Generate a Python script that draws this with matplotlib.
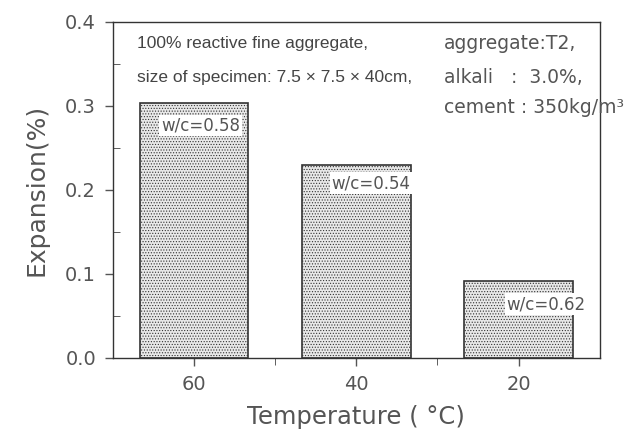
import matplotlib.pyplot as plt
import numpy as np

# data
temps = ["60", "40", "20"]
expansion = [0.304, 0.230, 0.091]
wc_labels = ["w/c=0.58", "w/c=0.54", "w/c=0.62"]

plt.rcParams['font.family'] = ['DejaVu Sans']
plt.rcParams['hatch.color'] = '#555555'
plt.rcParams['hatch.linewidth'] = 0.5
grey = '#555555'

fig = plt.figure(figsize=(6.3, 4.37), dpi=100)
ax = fig.add_axes([0.179, 0.181, 0.773, 0.769])

x = np.arange(len(temps))
ax.bar(x, expansion, width=0.67, facecolor='#e8e8e8', edgecolor='#333333',
       hatch='......', linewidth=1.2)

# w/c labels in white boxes on the bars
offsets = [(0.04, -0.027), (0.09, -0.022), (0.17, -0.027)]
for xi, val, lab, (dx, dy) in zip(x, expansion, wc_labels, offsets):
    ax.text(xi + dx, val + dy, lab, ha='center', va='center', fontsize=12,
            color=grey, bbox=dict(facecolor='white', edgecolor='none', pad=1.2))

ax.set_xlim(-0.5, 2.5)
ax.set_ylim(0, 0.4)
ax.set_xticks(x)
ax.set_xticklabels(temps)
ax.set_xticks([0.5, 1.5], minor=True)
ax.set_yticks([0.0, 0.1, 0.2, 0.3, 0.4])
ax.set_yticklabels(["0.0", "0.1", "0.2", "0.3", "0.4"])
ax.set_yticks([0.05, 0.15, 0.25, 0.35], minor=True)
ax.tick_params(axis='both', which='major', labelsize=14, colors=grey,
               length=6, width=1.0, direction='out', pad=6)
ax.tick_params(axis='y', which='minor', length=5, direction='in', color='#444444')
ax.tick_params(axis='x', which='minor', length=5, direction='out', color='#444444')
for s in ax.spines.values():
    s.set_color('#333333')
    s.set_linewidth(1.0)

ax.set_ylabel("Expansion(%)", fontsize=18, color=grey, labelpad=12)
ax.set_xlabel("Temperature ( \u00b0C)", fontsize=17.5, color=grey, labelpad=8)

# annotation text
ax.text(0.05, 0.935, "100% reactive fine aggregate,", transform=ax.transAxes,
        fontsize=12.5, color='#444444', ha='left', va='center',
        family=['Liberation Sans Narrow', 'Liberation Sans'])
ax.text(0.05, 0.835, "size of specimen: 7.5 \u00d7 7.5 \u00d7 40cm,", transform=ax.transAxes,
        fontsize=12.5, color='#444444', ha='left', va='center',
        family=['Liberation Sans Narrow', 'Liberation Sans'])
ax.text(0.68, 0.935, "aggregate:T2,", transform=ax.transAxes,
        fontsize=13.5, color=grey, ha='left', va='center')
ax.text(0.68, 0.835, "alkali   :  3.0%,", transform=ax.transAxes,
        fontsize=13.5, color=grey, ha='left', va='center')
ax.text(0.68, 0.745, "cement : 350kg/m\u00b3", transform=ax.transAxes,
        fontsize=13.5, color=grey, ha='left', va='center', clip_on=False)

fig.savefig("out.png", dpi=100)
